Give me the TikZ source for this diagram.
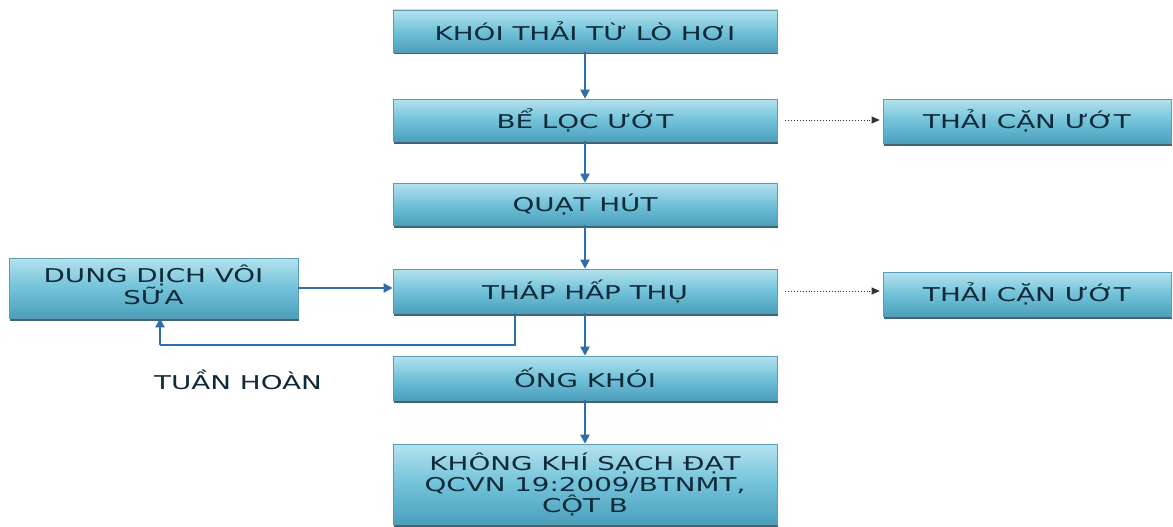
\documentclass[tikz,border=0pt]{standalone}
\usepackage{fontspec}
\setmainfont{DejaVu Sans}
\newfontfamily\widefont[FakeStretch=1.46]{DejaVu Sans}
\usetikzlibrary{arrows.meta,shadows}
\definecolor{boxtop}{HTML}{B4E2EE}
\definecolor{boxmid}{HTML}{72C2D9}
\definecolor{boxbot}{HTML}{4C9FBC}
\definecolor{boxedge}{HTML}{5B9DB3}
\definecolor{boxshadow}{HTML}{1E4A5C}
\definecolor{txt}{HTML}{0E2A38}
\definecolor{arr}{HTML}{2F6EA8}
\tikzset{
  procbox/.style={draw=boxedge, line width=0.6pt, top color=boxtop, bottom color=boxbot, middle color=boxmid,
    minimum width=384pt, minimum height=42pt, inner sep=2pt, align=center, text=txt,
    font=\widefont\fontsize{19}{21}\selectfont,
    drop shadow={shadow xshift=1pt, shadow yshift=-2.5pt, opacity=0.85, fill=boxshadow}},
  sidebox/.style={procbox, minimum width=288pt, minimum height=44pt},
  flow/.style={draw=arr, line width=2pt, -{Triangle[length=9pt,width=9pt]}},
  flowline/.style={draw=arr, line width=2pt},
  dotarrow/.style={draw=black!80, line width=0.9pt, dotted, -{Triangle[length=8pt,width=7pt]}},
  plain/.style={text=txt, font=\widefont\fontsize{19}{21}\selectfont}
}
\begin{document}
\begin{tikzpicture}[x=1pt,y=-1pt]
\useasboundingbox[fill=white] (0,0) rectangle (1173,527);
\node[procbox] (b1) at (585,31) {KHÓI THẢI TỪ LÒ HƠI};
\node[procbox] (b2) at (585,120) {BỂ LỌC ƯỚT};
\node[procbox] (b3) at (585,204) {QUẠT HÚT};
\node[procbox, minimum height=44pt] (b4) at (585,291) {THÁP HẤP THỤ};
\node[procbox, minimum height=44pt] (b5) at (585,378) {ỐNG KHÓI};
\node[procbox, minimum height=80pt] (b6) at (585,484) {KHÔNG KHÍ SẠCH ĐẠT\\QCVN 19:2009/BTNMT,\\CỘT B};
\node[procbox, minimum width=289pt, minimum height=60pt, text depth=6pt,
  font=\widefont\fontsize{19}{19}\selectfont] (l1) at (153.5,288) {DUNG DỊCH VÔI\\SỮA};
\node[sidebox] (r1) at (1027,121) {THẢI CẶN ƯỚT};
\node[sidebox] (r2) at (1027,294) {THẢI CẶN ƯỚT};
\node[plain] (tuan) at (238,380) {TUẦN HOÀN};

\draw[flow] (b1) -- (b2);
\draw[flow] (b2) -- (b3);
\draw[flow] (b3) -- (b4);
\draw[flow] (b4) -- (b5);
\draw[flow] (b5) -- (b6);
\draw[flow] (l1.east) -- (b4.west |- l1.east);
\draw[dotarrow] ([xshift=8pt]b2.east) -- ([xshift=-3pt]r1.west |- b2.east);
\draw[dotarrow] ([xshift=8pt]b4.east) -- ([xshift=-3pt]r2.west |- b4.east);
\coordinate (c1) at (515,345);
\coordinate (c2) at (160,345);
\draw[flowline] (b4.south -| c1) -- (c1) -- (c2);
\draw[flow] (c2) -- (c2 |- l1.south);
\end{tikzpicture}
\end{document}
